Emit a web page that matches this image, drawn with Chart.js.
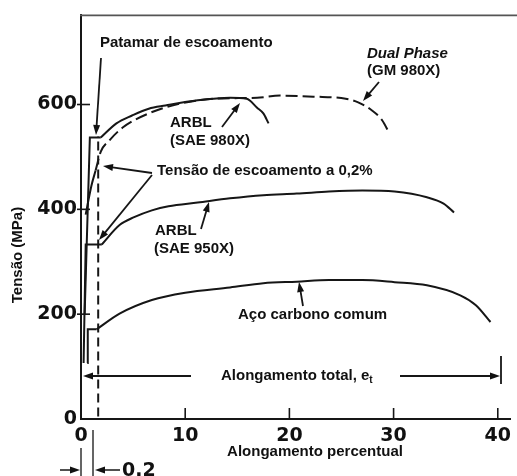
<!DOCTYPE html>
<html>
<head>
<meta charset="utf-8">
<script src="https://cdn.jsdelivr.net/npm/chart.js@4.4.0/dist/chart.umd.min.js"></script>
<style>
html,body{margin:0;padding:0;background:#fff;}
</style>
</head>
<body>
<canvas id="myChart" width="517" height="476"></canvas>
<script>
// valores: alongamento (%) e tensão (MPa)
const xTicks = [0, 10, 20, 30, 40];
const yTicks = [0, 200, 400, 600];

// aço carbono comum
const carbonoPatamarX = [0.6, 0.65, 1.5];
const carbonoPatamarY = [107, 171, 171];
const carbonoX = [1.5, 3.7, 6.8, 10.0, 14.3, 17.5, 20.7, 23.8, 27.0, 30.1, 33.2, 36.4, 37.9, 39.3];
const carbonoY = [171, 201, 227, 241, 251, 259, 262, 265, 265, 261, 255, 236, 217, 185];

// ARBL SAE 950X
const arbl950PatamarX = [0.25, 0.45, 2.0];
const arbl950PatamarY = [107, 333, 333];
const arbl950X = [2.0, 3.7, 5.1, 6.8, 8.4, 11.2, 14.3, 17.5, 20.7, 23.8, 27.0, 30.1, 33.2, 34.8, 35.8];
const arbl950Y = [333, 370, 385, 398, 406, 413, 421, 427, 430, 434, 436, 434, 423, 411, 394];

// ARBL SAE 980X
const arbl980PatamarX = [0.35, 0.85, 1.9];
const arbl980PatamarY = [200, 537, 537];
const arbl980X = [1.9, 3.4, 4.9, 6.5, 8.1, 11.2, 14.3, 15.9, 16.9, 17.5, 18.0];
const arbl980Y = [537, 564, 579, 592, 598, 608, 613, 611, 594, 583, 564];

// Dual Phase GM 980X
const dualInicioX = [0.45, 1.0, 1.4];
const dualInicioY = [390, 445, 474];
const dualX = [1.4, 1.9, 2.7, 4.0, 6.5, 9.6, 12.8, 16.9, 19.1, 22.3, 25.4, 26.6, 27.9, 28.9, 29.6];
const dualY = [474, 510, 531, 556, 583, 602, 611, 613, 617, 615, 611, 604, 589, 570, 545];

// linha de deslocamento 0,2%
const offsetX = [1.65, 1.65];
const offsetY = [5, 540];

function pts(xs, ys){
    return xs.map(function(v, i){ return {x: v, y: ys[i]}; });
}

function serie(xs, ys, curva, tracejado){
    return {
        data: pts(xs, ys),
        showLine: true,
        borderColor: '#161616',
        borderWidth: 2,
        pointRadius: 0,
        fill: false,
        tension: curva ? 0.4 : 0,
        cubicInterpolationMode: curva ? 'monotone' : 'default',
        borderDash: tracejado || []
    };
}

function fleche(ctx, x1, y1, x2, y2){
    const ang = Math.atan2(y2 - y1, x2 - x1);
    ctx.beginPath();
    ctx.moveTo(x1, y1);
    ctx.lineTo(x2 - 6 * Math.cos(ang), y2 - 6 * Math.sin(ang));
    ctx.stroke();
    ctx.beginPath();
    ctx.moveTo(x2, y2);
    ctx.lineTo(x2 - 10 * Math.cos(ang) + 3.5 * Math.sin(ang), y2 - 10 * Math.sin(ang) - 3.5 * Math.cos(ang));
    ctx.lineTo(x2 - 10 * Math.cos(ang) - 3.5 * Math.sin(ang), y2 - 10 * Math.sin(ang) + 3.5 * Math.cos(ang));
    ctx.closePath();
    ctx.fill();
}

function texto(ctx, t, x, y, font){
    ctx.font = font;
    ctx.textAlign = 'left';
    ctx.textBaseline = 'middle';
    ctx.fillText(t, x, y);
    return x + ctx.measureText(t).width;
}

const anotacoes = {
    id: 'anotacoes',
    afterDraw(chart){
        const ctx = chart.ctx;
        const area = chart.chartArea;
        const sx = chart.scales.x;
        const sy = chart.scales.y;
        const b = 'bold 15px "Liberation Sans", Arial, sans-serif';
        ctx.save();
        ctx.strokeStyle = '#161616';
        ctx.fillStyle = '#111';
        ctx.lineWidth = 1.6;

        // borda superior
        ctx.strokeStyle = '#555';
        ctx.beginPath();
        ctx.moveTo(area.left - 1, area.top);
        ctx.lineTo(chart.width, area.top);
        ctx.stroke();
        ctx.strokeStyle = '#161616';

        // marcas dos eixos
        yTicks.forEach(function(v){
            if(v === 0) return;
            const y = sy.getPixelForValue(v);
            ctx.beginPath();
            ctx.moveTo(area.left - 4, y);
            ctx.lineTo(area.left + 9, y);
            ctx.stroke();
        });
        xTicks.forEach(function(v){
            if(v === 0) return;
            const x = sx.getPixelForValue(v);
            ctx.beginPath();
            ctx.moveTo(x, area.bottom);
            ctx.lineTo(x, area.bottom - 11);
            ctx.stroke();
        });

        // títulos dos eixos
        ctx.font = b;
        ctx.textAlign = 'center';
        ctx.textBaseline = 'middle';
        ctx.fillText('Alongamento percentual', 315, 452);
        ctx.save();
        ctx.translate(18, 255);
        ctx.rotate(-Math.PI / 2);
        ctx.fillText('Tensão (MPa)', 0, 0);
        ctx.restore();

        // textos
        texto(ctx, 'Patamar de escoamento', 100, 43, b);
        texto(ctx, 'Dual Phase', 367, 54, 'italic bold 15px "Liberation Sans", Arial, sans-serif');
        texto(ctx, '(GM 980X)', 367, 71, b);
        texto(ctx, 'ARBL', 170, 123, b);
        texto(ctx, '(SAE 980X)', 170, 141, b);
        texto(ctx, 'Tensão de escoamento a 0,2%', 157, 171, b);
        texto(ctx, 'ARBL', 155, 231, b);
        texto(ctx, '(SAE 950X)', 154, 249, b);
        texto(ctx, 'Aço carbono comum', 238, 315, b);
        const fim = texto(ctx, 'Alongamento total, e', 221, 376, b);
        texto(ctx, 't', fim, 380, 'bold 10px "Liberation Sans", Arial, sans-serif');
        texto(ctx, '0.2', 122, 471, 'bold 19px "DejaVu Sans", sans-serif');

        // setas
        ctx.lineWidth = 1.8;
        fleche(ctx, 101, 58, 96, 135);
        fleche(ctx, 379, 82, 363, 101);
        fleche(ctx, 222, 127, 240, 103);
        fleche(ctx, 152, 173, 103, 166);
        fleche(ctx, 152, 175, 99, 240);
        fleche(ctx, 201, 229, 209, 202);
        fleche(ctx, 303, 306, 299, 282);
        fleche(ctx, 191, 376, 83, 376);
        fleche(ctx, 400, 376, 500, 376);
        ctx.beginPath();
        ctx.moveTo(501, 356);
        ctx.lineTo(501, 384);
        ctx.stroke();

        // indicação 0,2
        ctx.lineWidth = 1.5;
        ctx.strokeStyle = '#333';
        ctx.beginPath();
        ctx.moveTo(sx.getPixelForValue(0), 448);
        ctx.lineTo(sx.getPixelForValue(0), 476);
        ctx.moveTo(93, 430);
        ctx.lineTo(93, 476);
        ctx.stroke();
        ctx.strokeStyle = '#161616';
        fleche(ctx, 60, 470, 80, 470);
        fleche(ctx, 120, 470, 95, 470);
        ctx.restore();
    }
};

function drawChart(){
    const can = document.getElementById('myChart');
    const tickFont = {family: '"DejaVu Sans", sans-serif', size: 19, weight: 'bold'};

    const data = {
        datasets: [
            serie(carbonoPatamarX, carbonoPatamarY, false),
            serie(carbonoX, carbonoY, true),
            serie(arbl950PatamarX, arbl950PatamarY, false),
            serie(arbl950X, arbl950Y, true),
            serie(arbl980PatamarX, arbl980PatamarY, false),
            serie(arbl980X, arbl980Y, true),
            serie(dualInicioX, dualInicioY, true),
            serie(dualX, dualY, true, [12, 5]),
            serie(offsetX, offsetY, false, [9, 5])
        ]
    };

    const config = {
        type: 'scatter',
        data: data,
        options: {
            responsive: false,
            maintainAspectRatio: false,
            animation: false,
            layout: {padding: {top: 15, right: 0, left: 0, bottom: 0}},
            plugins: {legend: {display: false}, tooltip: {enabled: false}},
            scales: {
                x: {
                    type: 'linear',
                    min: 0,
                    max: 41.2,
                    afterBuildTicks: function(s){ s.ticks = xTicks.map(function(v){ return {value: v}; }); },
                    afterFit: function(s){ s.height = 57; },
                    grid: {display: true, drawOnChartArea: false, drawTicks: false},
                    border: {display: true, color: '#161616', width: 2},
                    ticks: {font: tickFont, color: '#111', padding: 6, maxRotation: 0, autoSkip: false}
                },
                y: {
                    type: 'linear',
                    min: 0,
                    max: 770,
                    afterBuildTicks: function(s){ s.ticks = yTicks.map(function(v){ return {value: v}; }); },
                    afterFit: function(s){ s.width = 81; },
                    grid: {display: true, drawOnChartArea: false, drawTicks: false},
                    border: {display: true, color: '#161616', width: 2},
                    ticks: {font: tickFont, color: '#111', padding: 4, autoSkip: false}
                }
            }
        },
        plugins: [anotacoes]
    };

    new Chart(can, config);
}

drawChart();
</script>
</body>
</html>
